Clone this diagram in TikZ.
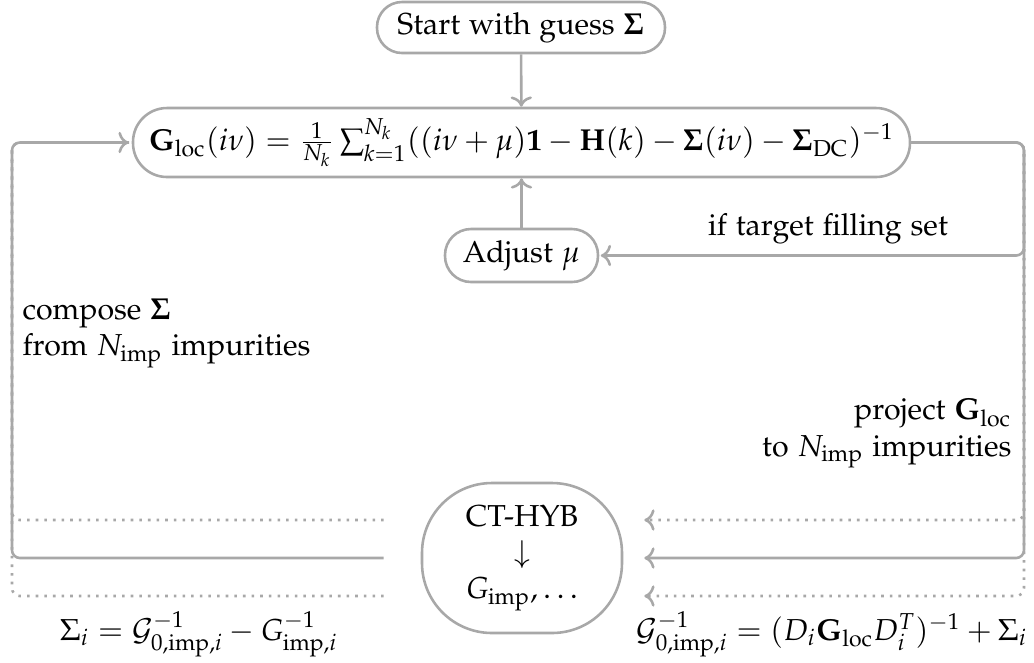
\documentclass[tikz,border=0pt]{standalone}
\usepackage[T1]{fontenc}
\usepackage[sc]{mathpazo}
\usetikzlibrary{calc,arrows.meta}
\definecolor{edgegray}{RGB}{168,168,168}
\def\pxu{0.33}

\begin{document}
\begin{tikzpicture}[x=\pxu pt, y=-\pxu pt,
  box/.style={draw=edgegray, line width=0.85pt, rectangle, align=center, inner sep=0pt},
  conn/.style={draw=edgegray, line width=0.85pt, -{To[length=3.4pt,width=7pt]}, rounded corners=2.6pt},
  dconn/.style={conn, dotted},
  lbl/.style={inner sep=0pt}]
\useasboundingbox (0,0) rectangle (1034,662);

% process boxes
\node[box, minimum width=288*\pxu pt, minimum height=51*\pxu pt, rounded corners=25*\pxu pt]
  (start) at (521,27.5) {Start with guess $\mathbf{\Sigma}$};
\node[box, minimum width=777*\pxu pt, minimum height=69*\pxu pt, rounded corners=34*\pxu pt]
  (main) at (521.5,142.5)
  {$\mathbf{G}_{\mathrm{loc}}(i\nu) = \frac{1}{N_k}\sum_{k=1}^{N_k}((i\nu+\mu)\mathbf{1} - \mathbf{H}(k) - \mathbf{\Sigma}(i\nu) - \mathbf{\Sigma}_{\mathrm{DC}})^{-1}$};
\node[box, minimum width=153*\pxu pt, minimum height=53*\pxu pt, rounded corners=26*\pxu pt]
  (adj) at (521.5,255.5) {Adjust $\mu$};
\node[box, minimum width=200*\pxu pt, minimum height=150*\pxu pt, rounded corners=70*\pxu pt]
  (ct) at (522,558) {CT-HYB\\$\downarrow$\\$G_{\mathrm{imp}},\ldots$};

% loop rails
\coordinate (R) at (1024,0);
\coordinate (L) at (12,0);
\coordinate (yu) at (0,520);
\coordinate (yl) at (0,596);

% labels
\node[lbl, anchor=base] (fill) at (828,235) {if target filling set};
\node[lbl, anchor=north west, align=left] (compose) at (22,298)
  {compose $\mathbf{\Sigma}$\\from $N_{\mathrm{imp}}$ impurities};
\node[lbl, anchor=north east, align=right] (project) at (1012,398)
  {project $\mathbf{G}_{\mathrm{loc}}$\\to $N_{\mathrm{imp}}$ impurities};
\node[lbl, anchor=base] (selfe) at (199,640)
  {$\Sigma_i = \mathcal{G}^{-1}_{0,\mathrm{imp},i} - G^{-1}_{\mathrm{imp},i}$};
\node[lbl, anchor=base east] (weiss) at (1028,640)
  {$\mathcal{G}^{-1}_{0,\mathrm{imp},i} = (D_i\mathbf{G}_{\mathrm{loc}}D_i^T)^{-1} + \Sigma_i$};

% dotted parallel channels (drawn first, beneath the solid loop)
\draw[dconn, shorten >=21*\pxu pt] (main.east) -| (R |- yu) -- (ct.east |- yu);
\draw[dconn, shorten >=21*\pxu pt] (main.east) -| (R |- yl) -- (ct.east |- yl);
\draw[dconn, -, shorten <=37*\pxu pt] (ct.west |- yu) -| (L |- main) -- (main.west);
\draw[dconn, -, shorten <=37*\pxu pt] (ct.west |- yl) -| (L |- main) -- (main.west);

% solid loop
\draw[conn] (start) -- (main);
\draw[conn] (adj) -- (main);
\draw[conn, shorten >=0.5pt] (main.east) -| (R |- adj) -- (adj.east);
\draw[conn, shorten >=21*\pxu pt] (main.east) -| (R |- ct) -- (ct.east);
\draw[conn, shorten <=37*\pxu pt, shorten >=3*\pxu pt] (ct.west) -| (L |- main) -- (main.west);
\end{tikzpicture}
\end{document}
